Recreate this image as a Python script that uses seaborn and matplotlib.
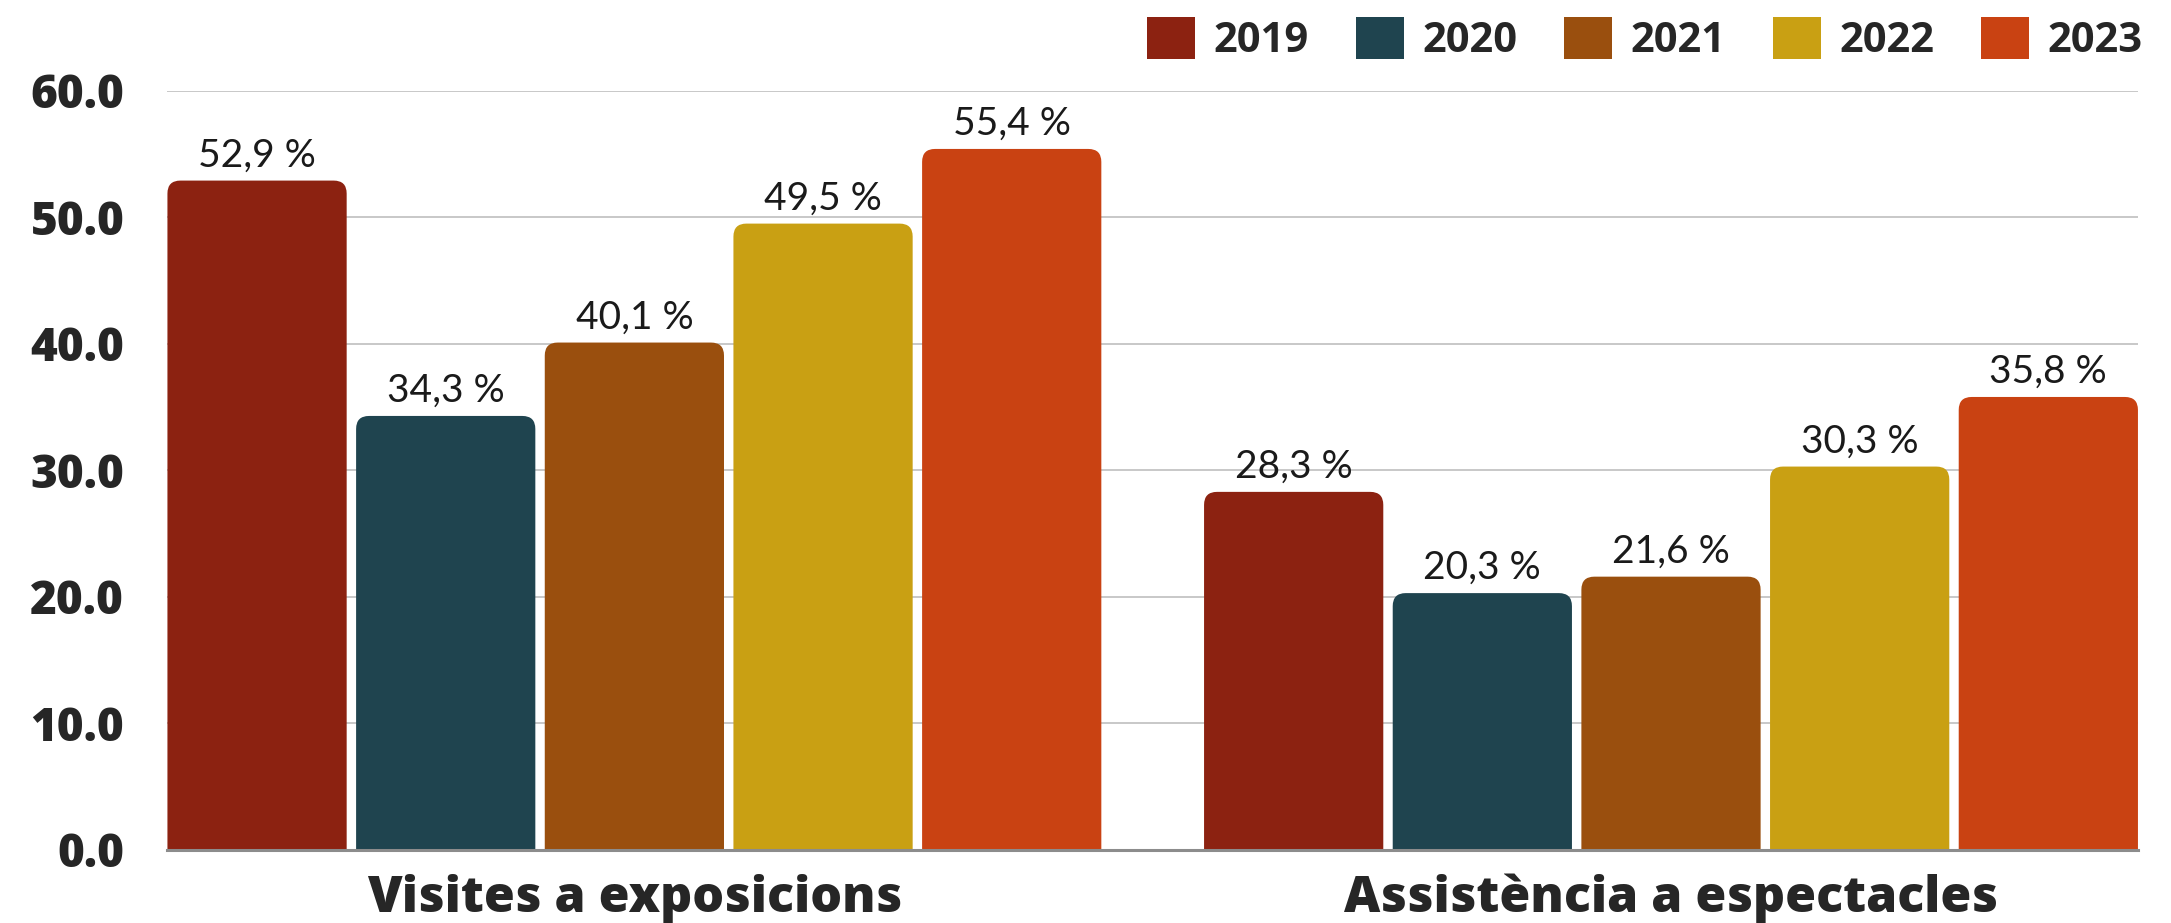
import pandas as pd
import matplotlib.pyplot as plt
import seaborn as sns
from matplotlib.patches import FancyBboxPatch, Patch

categories = ['Visites a exposicions', 'Assistència a espectacles']
years = ['2019', '2020', '2021', '2022', '2023']
values_2019 = [52.9, 28.3]
values_2020 = [34.3, 20.3]
values_2021 = [40.1, 21.6]
values_2022 = [49.5, 30.3]
values_2023 = [55.4, 35.8]
yticks = [0, 10, 20, 30, 40, 50, 60]
colors = ['#8C2211', '#1F444F', '#9A4F0E', '#C9A013', '#C94212']

series = [values_2019, values_2020, values_2021, values_2022, values_2023]
rows = []
for year, vals in zip(years, series):
    for cat, v in zip(categories, vals):
        rows.append({'category': cat, 'year': year, 'value': v})
df = pd.DataFrame(rows)

sns.set_style('white')
plt.rcParams['font.family'] = ['Open Sans', 'DejaVu Sans']

fig = plt.figure(figsize=(21.71, 9.23), dpi=100)
ax = fig.add_axes([0.0771, 0.0791, 0.9077, 0.8226])

sns.barplot(data=df, x='category', y='value', hue='year', order=categories,
            hue_order=years, palette=colors, width=0.91, gap=0.05,
            saturation=1, errorbar=None, legend=False, ax=ax)

ax.set_xlim(-0.4505, 1.4505)
ax.set_ylim(0, 60)

# swap the square bars for ones with rounded tops
r = 0.0125
aspect = 81.9
bars = list(ax.patches)
for bar in bars:
    x, y = bar.get_x(), bar.get_y()
    w, h = bar.get_width(), bar.get_height()
    rb = FancyBboxPatch((x, y - 3), w, h + 3,
                        boxstyle=f'round,pad=0,rounding_size={r}',
                        mutation_aspect=aspect, facecolor=bar.get_facecolor(),
                        linewidth=0, zorder=2)
    ax.add_patch(rb)
    bar.set_visible(False)
    label = f'{h:.1f}'.replace('.', ',') + ' %'
    ax.annotate(label, (x + w / 2, h), xytext=(0, 10), textcoords='offset points',
                ha='center', va='baseline', fontsize=28, fontfamily='Lato',
                fontweight='normal', color='#1a1a1a', zorder=3)

ax.set_yticks(yticks)
ax.set_yticklabels([f'{t:.1f}' for t in yticks], fontsize=33, fontweight='heavy')
ax.tick_params(axis='y', length=0, pad=31)
ax.tick_params(axis='x', length=0, pad=17, labelsize=36)
for lab in ax.get_xticklabels():
    lab.set_fontweight('heavy')
ax.set_xlabel('')
ax.set_ylabel('')

ax.grid(axis='y', color='#c8c8c8', linewidth=1.4, zorder=0)
ax.set_axisbelow(True)
for side in ['left', 'right', 'top']:
    ax.spines[side].set_visible(False)
ax.spines['bottom'].set_color('#8c8c8c')
ax.spines['bottom'].set_linewidth(2.2)
ax.spines['bottom'].set_zorder(4)

handles = [Patch(facecolor=c, edgecolor='none', label=y) for c, y in zip(colors, years)]
fig.legend(handles=handles, loc='center right', bbox_to_anchor=(0.987, 0.957),
           ncol=5, frameon=False, prop={'weight': 'bold', 'size': 30},
           handlelength=1.15, handleheight=1.15, handletextpad=0.45,
           columnspacing=1.12, borderpad=0, borderaxespad=0)

plt.savefig('out.png', dpi=100)
